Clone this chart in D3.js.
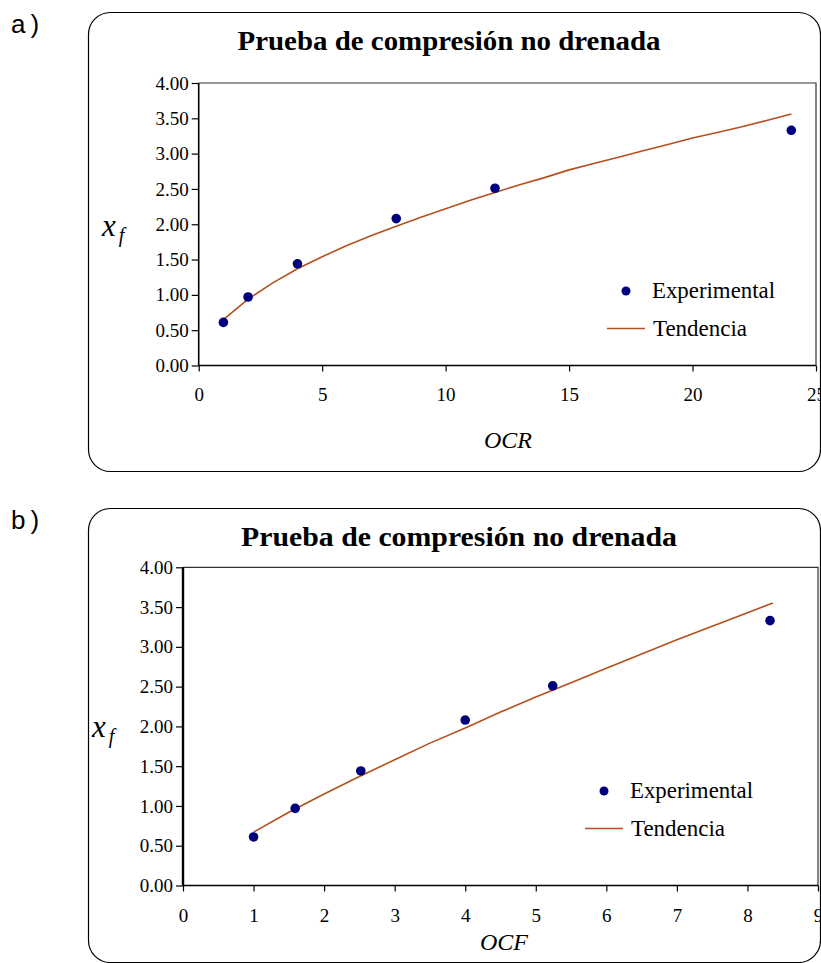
<!DOCTYPE html>
<html>
<head>
<meta charset="utf-8">
<script src="https://cdn.jsdelivr.net/npm/d3@7"></script>
<style>
    body { margin: 0; background: #fff; }
    svg { display: block; }
</style>
</head>
<body>
<div id="chart"></div>
<script>
// experimental points
var ocr = [1, 2, 4, 8, 12, 24];
var ocf = [1, 1.59, 2.52, 4, 5.24, 8.32];
var xfExp = [0.61, 0.97, 1.44, 2.08, 2.51, 3.33];

// trend lines
var trendOcr = [1, 2, 3, 4, 5, 6, 7, 8, 9, 10, 11, 12, 13, 14, 15, 16, 17, 18, 19, 20, 21, 22, 23, 24];
var trendOcrXf = [0.65, 0.94, 1.17, 1.37, 1.54, 1.70, 1.84, 1.97, 2.10, 2.22, 2.34, 2.45, 2.56, 2.66, 2.77, 2.86, 2.95, 3.04, 3.13, 3.22, 3.30, 3.38, 3.47, 3.56];
var trendOcf = [1, 1.5, 2, 2.5, 3, 3.5, 4, 4.5, 5, 5.5, 6, 6.5, 7, 7.5, 8, 8.36];
var trendOcfXf = [0.67, 0.92, 1.15, 1.37, 1.58, 1.79, 1.98, 2.18, 2.37, 2.55, 2.73, 2.91, 3.09, 3.26, 3.43, 3.55];

var yTicks = [0, 0.5, 1, 1.5, 2, 2.5, 3, 3.5, 4];
var ocrTicks = [0, 5, 10, 15, 20, 25];
var ocfTicks = [0, 1, 2, 3, 4, 5, 6, 7, 8, 9];

var title = 'Prueba de compresión no drenada';
var dotColor = '#00007f';
var lineColor = '#b4501e';
var serif = '"Liberation Serif", "Times New Roman", serif';

var svg = d3.select('#chart')
            .append('svg')
            .attr('width', 821)
            .attr('height', 963);

function drawChart(c) {
    var g = svg.append('g');

    // panel letter
    g.append('text')
     .attr('x', 11)
     .attr('y', c.letterY)
     .attr('font-family', '"Liberation Sans", Arial, sans-serif')
     .attr('font-size', 26)
     .attr('letter-spacing', 5)
     .text(c.letter);

    // rounded frame
    g.append('rect')
     .attr('x', 88.5)
     .attr('y', c.boxTop + 0.5)
     .attr('width', 732)
     .attr('height', c.boxH)
     .attr('rx', 22)
     .attr('fill', 'none')
     .attr('stroke', '#000')
     .attr('stroke-width', 1.2);

    var x = d3.scaleLinear()
              .domain([0, c.xMax])
              .range([c.left, c.right]);

    var y = d3.scaleLinear()
              .domain([0, 4])
              .range([c.bottom, c.top]);

    // plot frame (top/right)
    g.append('path')
     .attr('d', 'M' + c.left + ',' + c.top + 'H' + c.right + 'V' + c.bottom)
     .attr('fill', 'none')
     .attr('stroke', '#333')
     .attr('stroke-width', 1.2);

    var xAxis = d3.axisBottom(x)
                  .tickValues(c.xTicks)
                  .tickSize(6)
                  .tickPadding(c.xPad)
                  .tickFormat(d3.format('d'));

    var yAxis = d3.axisLeft(y)
                  .tickValues(yTicks)
                  .tickSize(7)
                  .tickPadding(3)
                  .tickFormat(d3.format('.2f'));

    g.append('g')
     .attr('transform', 'translate(0,' + c.bottom + ')')
     .call(xAxis)
     .call(function (a) {
         a.attr('font-family', serif).attr('font-size', 19);
         a.select('.domain').attr('stroke-width', 1.6).attr('d', 'M' + c.left + ',0H' + c.right);
         a.selectAll('.tick line').attr('stroke-width', 1.2);
         a.selectAll('text').attr('fill', '#000');
     });

    g.append('g')
     .attr('transform', 'translate(' + c.left + ',0)')
     .call(yAxis)
     .call(function (a) {
         a.attr('font-family', serif).attr('font-size', 19);
         a.select('.domain').attr('stroke-width', c.yAxisW).attr('d', 'M0,' + c.top + 'V' + c.bottom);
         a.selectAll('.tick line').attr('stroke-width', 1.2);
         a.selectAll('text').attr('fill', '#000');
     });

    // title
    g.append('text')
     .attr('x', c.titleX)
     .attr('y', c.titleY)
     .attr('text-anchor', 'middle')
     .attr('font-family', serif)
     .attr('font-weight', 'bold')
     .attr('font-size', 27)
     .attr('textLength', c.titleW)
     .attr('lengthAdjust', 'spacingAndGlyphs')
     .text(title);

    // axis titles
    g.append('text')
     .attr('x', c.xLabelX)
     .attr('y', c.xLabelY)
     .attr('text-anchor', 'middle')
     .attr('font-family', serif)
     .attr('font-style', 'italic')
     .attr('font-size', 24)
     .text(c.xLabel);

    var yl = g.append('text')
              .attr('x', c.yLabelX)
              .attr('y', c.yLabelY)
              .attr('font-family', serif)
              .attr('font-style', 'italic')
              .attr('font-size', 31);
    yl.append('tspan').text('x');
    yl.append('tspan')
      .attr('font-size', 20)
      .attr('dx', 3)
      .attr('dy', 6)
      .text('f');

    // trend line
    var line = d3.line()
                 .x(function (d) { return x(d[0]); })
                 .y(function (d) { return y(d[1]); });

    g.append('path')
     .datum(d3.zip(c.trendX, c.trendY))
     .attr('d', line)
     .attr('fill', 'none')
     .attr('stroke', lineColor)
     .attr('stroke-width', 1.6);

    // experimental points
    g.selectAll('circle.exp')
     .data(d3.zip(c.expX, xfExp))
     .enter().append('circle')
     .attr('class', 'exp')
     .attr('cx', function (d) { return x(d[0]); })
     .attr('cy', function (d) { return y(d[1]); })
     .attr('r', 4.8)
     .attr('fill', dotColor);

    // legend
    var lg = g.append('g');
    lg.append('circle')
      .attr('cx', c.legX + 19)
      .attr('cy', c.legY - 7)
      .attr('r', 4.5)
      .attr('fill', dotColor);
    lg.append('text')
      .attr('x', c.legX + 45)
      .attr('y', c.legY)
      .attr('font-family', serif)
      .attr('font-size', 24)
      .attr('textLength', 123)
      .attr('lengthAdjust', 'spacingAndGlyphs')
      .text('Experimental');
    lg.append('line')
      .attr('x1', c.legX)
      .attr('x2', c.legX + 38)
      .attr('y1', c.legY + 30.5)
      .attr('y2', c.legY + 30.5)
      .attr('stroke', lineColor)
      .attr('stroke-width', 1.6);
    lg.append('text')
      .attr('x', c.legX + 46)
      .attr('y', c.legY + 38)
      .attr('font-family', serif)
      .attr('font-size', 24)
      .attr('textLength', 94)
      .attr('lengthAdjust', 'spacingAndGlyphs')
      .text('Tendencia');
}

drawChart({
    letter: 'a)', letterY: 33,
    boxTop: 12, boxH: 459,
    left: 198.7, right: 816, top: 83, bottom: 365.5,
    xMax: 25, xTicks: ocrTicks, xPad: 16, yAxisW: 1.6,
    titleX: 449, titleY: 50, titleW: 423,
    xLabel: 'OCR', xLabelX: 508, xLabelY: 448,
    yLabelX: 102, yLabelY: 236,
    expX: ocr, trendX: trendOcr, trendY: trendOcrXf,
    legX: 607, legY: 298
});

drawChart({
    letter: 'b)', letterY: 529,
    boxTop: 508, boxH: 454,
    left: 183, right: 818, top: 567.3, bottom: 885.5,
    xMax: 9, xTicks: ocfTicks, xPad: 17, yAxisW: 2.4,
    titleX: 459, titleY: 546, titleW: 436,
    xLabel: 'OCF', xLabelX: 504, xLabelY: 950,
    yLabelX: 92, yLabelY: 737,
    expX: ocf, trendX: trendOcf, trendY: trendOcfXf,
    legX: 585, legY: 798
});
</script>
</body>
</html>
